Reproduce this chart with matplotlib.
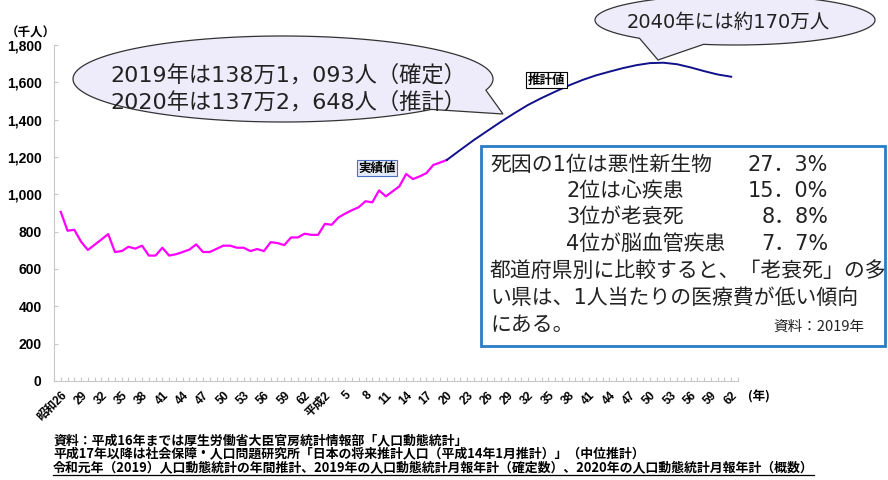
import numpy as np
import matplotlib
matplotlib.use('Agg')
import matplotlib.pyplot as plt
from matplotlib.patches import Polygon, Rectangle
from matplotlib.lines import Line2D
from matplotlib.ticker import MultipleLocator

plt.rcParams['font.family'] = ['Noto Sans CJK JP', 'DejaVu Sans']

# ---- 死亡数（千人） ----
actual_years = list(range(1951, 2009))
actual_deaths = [906, 805, 810, 746, 702, 730, 758, 787, 691, 696,
                 719, 709, 725, 672, 672, 714, 672, 679, 691, 704,
                 732, 691, 691, 708, 725, 725, 714, 714, 696, 707,
                 696, 744, 739, 728, 769, 769, 789, 783, 783, 842,
                 837, 876, 897, 915, 931, 963, 957, 1021, 989, 1016,
                 1043, 1109, 1082, 1096, 1114, 1157, 1170, 1184]

proj_years = list(range(2008, 2051, 2))
proj_deaths = [1184, 1238, 1291, 1340, 1389, 1435, 1479, 1516, 1550, 1583,
               1612, 1637, 1657, 1676, 1692, 1703, 1705, 1697, 1680, 1660,
               1642, 1630]

label_years = list(range(1951, 2051, 3))
era_labels = ['昭和26', '29', '32', '35', '38', '41', '44', '47', '50', '53',
              '56', '59', '62', '平成2', '5', '8', '11', '14', '17', '20',
              '23', '26', '29', '32', '35', '38', '41', '44', '47', '50',
              '53', '56', '59', '62']
y_ticks = list(range(0, 1801, 200))

W, H = 888, 480
JP = ['DejaVu Sans', 'Noto Sans CJK JP']
TICKFONT = ['Liberation Sans', 'Noto Sans CJK JP']


def fx(x):
    return x / W


def fy(y):
    return 1 - y / H


def bubble(fig, cx, cy, a, b, t1, t2, tip, fc, ec):
    # 楕円の吹き出し（ピクセル座標、y 下向き）
    ts = np.radians(np.linspace(t2, t1 + 360, 240))
    pts = [(fx(cx + a * np.cos(t)), fy(cy + b * np.sin(t))) for t in ts]
    pts.append((fx(tip[0]), fy(tip[1])))
    p = Polygon(pts, closed=True, transform=fig.transFigure,
                facecolor=fc, edgecolor=ec, linewidth=0.9, zorder=5)
    fig.patches.append(p)


fig = plt.figure(figsize=(8.88, 4.8), dpi=100)
ax = fig.add_axes([fx(54), fy(381), (738 - 54) / W, (381 - 45) / H])

ax.plot(actual_years, actual_deaths, color='#FF00FF', lw=1.6)
ax.plot(proj_years, proj_deaths, color='#10108A', lw=1.4)

ax.set_xlim(1950, 2051)
ax.set_ylim(0, 1800)
ax.set_xticks(label_years)
ax.set_xticklabels(era_labels, rotation=45, ha='right', rotation_mode='anchor',
                   fontsize=8.5, fontweight='bold', family=TICKFONT)
ax.xaxis.set_minor_locator(MultipleLocator(1))
ax.set_yticks(y_ticks)
ax.set_yticklabels([f'{v:,}' for v in y_ticks], fontsize=10, fontweight='bold',
                   family=TICKFONT)
ax.tick_params(axis='both', which='both', direction='in', length=3,
               color='#c8c8c8', width=0.8)
ax.tick_params(axis='y', pad=9)
ax.tick_params(axis='x', pad=6)
for s in ['top', 'right']:
    ax.spines[s].set_visible(False)
for s in ['left', 'bottom']:
    ax.spines[s].set_color('#c8c8c8')

fig.text(fx(6), fy(33), '（千人）', fontsize=9, fontweight='bold',
         ha='left', va='center')
fig.text(fx(748), fy(397), '(年)', fontsize=9, fontweight='bold',
         ha='left', va='center')

# 実績値・推計値ラベル
ax.text(1997.7, 1141, '実績値', fontsize=9, fontweight='bold', ha='center',
        va='center', zorder=4,
        bbox=dict(boxstyle='square,pad=0.12', fc='#e4ebf8', ec='#4a6fc0', lw=0.8))
ax.text(2022.7, 1612, '推計値', fontsize=9, fontweight='bold', ha='center',
        va='center', zorder=4,
        bbox=dict(boxstyle='square,pad=0.12', fc='white', ec='black', lw=0.8))

# 吹き出し
lav = '#EEEBFA'
bubble(fig, 283, 79, 210, 43, 15, 45, (503, 114), lav, '#333333')
fig.text(fx(110), fy(75), '2019年は138万1，093人（確定）', fontsize=16,
         family=JP, color='#222222', ha='left', va='center', zorder=6)
fig.text(fx(110), fy(102), '2020年は137万2，648人（推計）', fontsize=16,
         family=JP, color='#222222', ha='left', va='center', zorder=6)

bubble(fig, 735, 20, 140, 25, 103, 133, (658, 60), lav, '#333333')
fig.text(fx(627), fy(22), '2040年には約170万人', fontsize=14,
         family=JP, color='#222222', ha='left', va='center', zorder=6)

# 死因の枠
box = Rectangle((fx(481), fy(346)), (885 - 481) / W, (346 - 146) / H,
                transform=fig.transFigure, facecolor='white',
                edgecolor='#2A7BC8', lw=2, zorder=5)
fig.patches.append(box)

rows = [(490, 165, '死因の1位は悪性新生物', '27．3%'),
        (566, 191, '2位は心疾患', '15．0%'),
        (566, 217, '3位が老衰死', '8．8%'),
        (566, 244, '4位が脳血管疾患', '7．7%')]
for x0, y0, left, right in rows:
    fig.text(fx(x0), fy(y0), left, fontsize=15, family=JP, color='#222222',
             ha='left', va='center', zorder=6)
    fig.text(fx(828), fy(y0), right, fontsize=15, family=JP, color='#222222',
             ha='right', va='center', zorder=6)
fig.text(fx(490), fy(271), '都道府県別に比較すると、「老衰死」の多', fontsize=15,
         color='#222222', ha='left', va='center', zorder=6)
fig.text(fx(490), fy(298), 'い県は、1人当たりの医療費が低い傾向', fontsize=15,
         family=JP, color='#222222', ha='left', va='center', zorder=6)
fig.text(fx(490), fy(325), 'にある。', fontsize=15,
         color='#222222', ha='left', va='center', zorder=6)
fig.text(fx(864), fy(327), '資料：2019年', fontsize=10.5,
         color='#222222', ha='right', va='center', zorder=6)

# 出典
notes = ['資料：平成16年までは厚生労働省大臣官房統計情報部「人口動態統計」',
         '平成17年以降は社会保障・人口問題研究所「日本の将来推計人口（平成14年1月推計）」（中位推計）',
         '令和元年（2019）人口動態統計の年間推計、2019年の人口動態統計月報年計（確定数）、2020年の人口動態統計月報年計（概数）']
note_y = [440, 453, 467]
note_txt = []
for t, y0 in zip(notes, note_y):
    note_txt.append(fig.text(fx(53), fy(y0), t, fontsize=9.3, fontweight='bold',
                             ha='left', va='center'))

fig.canvas.draw()
bb = note_txt[2].get_window_extent()
fig.add_artist(Line2D([bb.x0 / W, bb.x1 / W], [(bb.y0 - 0.5) / H] * 2,
                      transform=fig.transFigure, color='black', lw=0.9))

fig.savefig('out.png', dpi=100)
